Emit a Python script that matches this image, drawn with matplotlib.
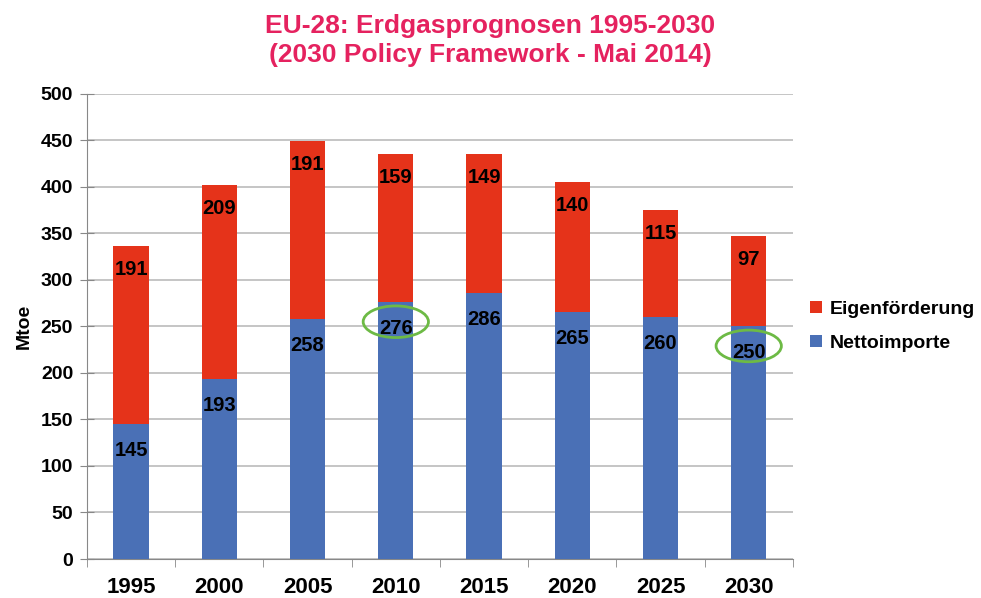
import numpy as np
import matplotlib.pyplot as plt
from matplotlib.patches import Ellipse

plt.rcParams['font.family'] = ['Liberation Sans', 'DejaVu Sans']
plt.rcParams['font.weight'] = 'bold'

jahre = ['1995', '2000', '2005', '2010', '2015', '2020', '2025', '2030']
netto = [145, 193, 258, 276, 286, 265, 260, 250]
eigen = [191, 209, 191, 159, 149, 140, 115, 97]
markiert = ['2010', '2030']

rot = '#E5331A'
blau = '#4A70B6'

fig = plt.figure(figsize=(9.81, 5.98), dpi=100)
ax = fig.add_axes([0.0887, 0.0652, 0.7195, 0.778])

x = np.arange(len(jahre))
b1 = ax.bar(x, netto, width=0.4, color=blau, label='Nettoimporte', zorder=3)
b2 = ax.bar(x, eigen, width=0.4, bottom=netto, color=rot, label='Eigenförderung', zorder=3)

# Werte in die Balken schreiben (knapp unter der Oberkante)
for i in range(len(jahre)):
    ax.annotate(str(netto[i]), (x[i], netto[i]), xytext=(0, -19), textcoords='offset points',
                ha='center', va='center', fontsize=14.5, fontweight='bold', zorder=5)
    ax.annotate(str(eigen[i]), (x[i], netto[i] + eigen[i]), xytext=(0, -17), textcoords='offset points',
                ha='center', va='center', fontsize=14.5, fontweight='bold', zorder=5)

# gruene Kreise um 2010 und 2030
for j in markiert:
    i = jahre.index(j)
    ax.add_patch(Ellipse((x[i], netto[i] - 21), 0.74, 34, fill=False, edgecolor='#6DBA45', lw=2, zorder=6))

ax.set_xlim(-0.5, len(jahre) - 0.5)
ax.set_ylim(0, 500)
ax.set_yticks(np.arange(0, 501, 50))
ax.set_xticks(x)
ax.set_xticklabels(jahre, fontsize=16, fontweight='bold')
ax.set_xticks(np.arange(-0.5, len(jahre), 1), minor=True)
ax.tick_params(axis='x', which='major', length=0, pad=13)
ax.tick_params(axis='x', which='minor', length=6, color='#888888', direction='out')
ax.tick_params(axis='y', length=10, color='#888888', direction='inout', labelsize=14, pad=5)
for lab in ax.get_yticklabels():
    lab.set_fontweight('bold')
ax.set_ylabel('Mtoe', fontsize=14, fontweight='bold', labelpad=6)

ax.grid(axis='y', color='#BBBBBB', lw=1.2, zorder=0)
for s in ['top', 'right']:
    ax.spines[s].set_visible(False)
ax.spines['left'].set_color('#888888')
ax.spines['bottom'].set_color('#888888')

ax.legend(handles=[b2, b1], loc='center left', bbox_to_anchor=(1.0, 0.5), frameon=False,
          prop={'size': 14, 'weight': 'bold'}, handlelength=0.6, handleheight=0.6,
          handletextpad=0.4, labelspacing=0.9)

fig.text(0.5, 0.977, 'EU-28: Erdgasprognosen 1995-2030\n(2030 Policy Framework - Mai 2014)',
         ha='center', va='top', fontsize=19, fontweight='bold', color='#E5225F', linespacing=1.3)

fig.savefig('out.png', dpi=100)
